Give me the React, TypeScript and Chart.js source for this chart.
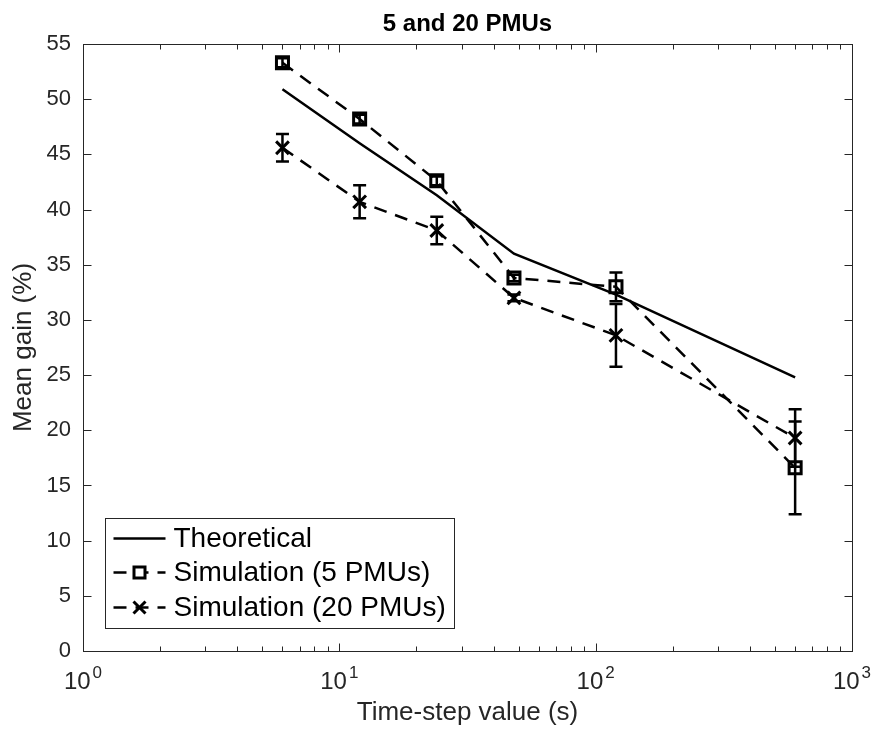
import { useEffect, useRef } from 'react';
import { Chart, registerables } from 'chart.js';

Chart.register(...registerables);

// ---- data ----
const timeSteps = [6, 12, 24, 48, 120, 600];
const theoretical = [50.9, 46.0, 41.3, 36.0, 32.3, 24.8];
const sim5 = [53.3, 48.2, 42.6, 33.8, 33.0, 16.6];
const sim5Err = [0.4, 0.4, 0.4, 0.3, 1.3, 4.2];
const sim20 = [45.6, 40.7, 38.1, 32.0, 28.6, 19.3];
const sim20Err = [1.25, 1.5, 1.25, 0.3, 2.85, 2.6];
const xMajorTicks = [1, 10, 100, 1000];
const xTickExponents = ['0', '1', '2', '3'];
const seriesLabels = ['Theoretical', 'Simulation (5 PMUs)', 'Simulation (20 PMUs)'];
const chartTitle = '5 and 20 PMUs';
const xTitle = 'Time-step value (s)';
const yTitle = 'Mean gain (%)';
const yMin = 0;
const yMax = 55;
const yStep = 5;

const FONT = '"Liberation Sans", Arial, Helvetica, sans-serif';
const AXIS = '#262626';
const DASH = [13, 9];

const errorsByDataset: (number[] | null)[] = [null, sim5Err, sim20Err];

const errorBarPlugin = {
  id: 'errorBars',
  afterDatasetsDraw(chart: any) {
    const ctx = chart.ctx;
    const xs = chart.scales.x;
    const ys = chart.scales.y;
    ctx.save();
    ctx.strokeStyle = '#000';
    ctx.lineWidth = 2.5;
    ctx.setLineDash([]);
    chart.data.datasets.forEach((ds: any, di: number) => {
      const errs = errorsByDataset[di];
      if (!errs) return;
      ds.data.forEach((p: any, i: number) => {
        const px = xs.getPixelForValue(p.x);
        const top = ys.getPixelForValue(p.y + errs[i]);
        const bot = ys.getPixelForValue(p.y - errs[i]);
        const cap = 6.5;
        ctx.beginPath();
        ctx.moveTo(px, top);
        ctx.lineTo(px, bot);
        ctx.moveTo(px - cap, top);
        ctx.lineTo(px + cap, top);
        ctx.moveTo(px - cap, bot);
        ctx.lineTo(px + cap, bot);
        ctx.stroke();
      });
    });
    ctx.restore();
  },
};

const framePlugin = {
  id: 'frame',
  afterDraw(chart: any) {
    const ctx = chart.ctx;
    const ca = chart.chartArea;
    const xs = chart.scales.x;
    const ys = chart.scales.y;
    const L = Math.round(ca.left) + 0.5;
    const R = Math.round(ca.right) + 0.5;
    const T = Math.round(ca.top) + 0.5;
    const B = Math.round(ca.bottom) + 0.5;
    ctx.save();
    ctx.strokeStyle = AXIS;
    ctx.lineWidth = 1;
    ctx.setLineDash([]);
    ctx.strokeRect(L, T, R - L, B - T);
    const major = 8;
    const minor = 5;
    ctx.beginPath();
    for (let d = 0; d < xMajorTicks.length; d++) {
      const base = xMajorTicks[d];
      const px = Math.round(xs.getPixelForValue(base)) + 0.5;
      ctx.moveTo(px, B);
      ctx.lineTo(px, B - major);
      ctx.moveTo(px, T);
      ctx.lineTo(px, T + major);
      if (d < xMajorTicks.length - 1) {
        for (let k = 2; k <= 9; k++) {
          const mx = Math.round(xs.getPixelForValue(base * k)) + 0.5;
          ctx.moveTo(mx, B);
          ctx.lineTo(mx, B - minor);
          ctx.moveTo(mx, T);
          ctx.lineTo(mx, T + minor);
        }
      }
    }
    for (let v = yMin; v <= yMax; v += yStep) {
      const py = Math.round(ys.getPixelForValue(v)) + 0.5;
      ctx.moveTo(L, py);
      ctx.lineTo(L + major, py);
      ctx.moveTo(R, py);
      ctx.lineTo(R - major, py);
    }
    ctx.stroke();

    // title
    ctx.fillStyle = '#000';
    ctx.textBaseline = 'middle';
    ctx.textAlign = 'center';
    ctx.font = `bold 24px ${FONT}`;
    ctx.fillText(chartTitle, (ca.left + ca.right) / 2, ca.top - 20);

    // x tick labels 10^n
    ctx.fillStyle = AXIS;
    ctx.textAlign = 'left';
    xMajorTicks.forEach((v, i) => {
      const px = xs.getPixelForValue(v);
      ctx.font = `24px ${FONT}`;
      const w1 = ctx.measureText('10').width;
      ctx.font = `17px ${FONT}`;
      const w2 = ctx.measureText(xTickExponents[i]).width;
      const start = px - (w1 + 2 + w2) / 2;
      ctx.font = `24px ${FONT}`;
      ctx.fillText('10', start, B + 31);
      ctx.font = `17px ${FONT}`;
      ctx.fillText(xTickExponents[i], start + w1 + 2, B + 22);
    });

    // legend
    const boxL = Math.round(ca.left) + 22.5;
    const boxB = Math.round(ca.bottom) - 22.5;
    const boxW = 349;
    const boxH = 110;
    const boxT = boxB - boxH;
    ctx.fillStyle = '#fff';
    ctx.fillRect(boxL, boxT, boxW, boxH);
    ctx.strokeStyle = AXIS;
    ctx.lineWidth = 1;
    ctx.strokeRect(boxL, boxT, boxW, boxH);
    const rows = [20, 54, 89];
    const x1 = boxL + 8;
    const x2 = boxL + 60;
    const mx = boxL + 34;
    chart.data.datasets.forEach((ds: any, i: number) => {
      const y = boxT + rows[i];
      ctx.strokeStyle = '#000';
      ctx.lineWidth = 2.5;
      ctx.setLineDash(ds.borderDash || []);
      ctx.beginPath();
      ctx.moveTo(x1, y);
      ctx.lineTo(x2, y);
      ctx.stroke();
      ctx.setLineDash([]);
      ctx.lineWidth = 3;
      if (ds.pointStyle === 'rect') {
        ctx.fillStyle = '#fff';
        ctx.fillRect(mx - 5.5, y - 5.5, 11, 11);
        ctx.strokeRect(mx - 5.5, y - 5.5, 11, 11);
      } else if (ds.pointStyle === 'crossRot') {
        ctx.beginPath();
        ctx.moveTo(mx - 6, y - 6);
        ctx.lineTo(mx + 6, y + 6);
        ctx.moveTo(mx + 6, y - 6);
        ctx.lineTo(mx - 6, y + 6);
        ctx.stroke();
      }
      ctx.fillStyle = '#000';
      ctx.font = `28px ${FONT}`;
      ctx.textBaseline = 'middle';
      ctx.textAlign = 'left';
      ctx.fillText(seriesLabels[i], boxL + 68, y + 1);
    });
    ctx.restore();
  },
};

export default function App() {
  const ref = useRef<HTMLCanvasElement | null>(null);
  useEffect(() => {
    document.body.style.margin = '0';
    const canvas = ref.current;
    if (!canvas) return;
    Chart.defaults.font.family = FONT;
    const pts = (ys: number[]) => timeSteps.map((x, i) => ({ x, y: ys[i] }));
    const chart = new Chart(canvas, {
      type: 'line',
      data: {
        datasets: [
          {
            label: seriesLabels[0],
            data: pts(theoretical),
            borderColor: '#000',
            borderWidth: 2.5,
            pointRadius: 0,
            tension: 0,
          },
          {
            label: seriesLabels[1],
            data: pts(sim5),
            borderColor: '#000',
            borderWidth: 2.5,
            borderDash: DASH,
            pointStyle: 'rect',
            pointRadius: 8.5,
            pointBorderWidth: 3,
            pointBorderColor: '#000',
            pointBackgroundColor: 'rgba(0,0,0,0)',
            tension: 0,
          },
          {
            label: seriesLabels[2],
            data: pts(sim20),
            borderColor: '#000',
            borderWidth: 2.5,
            borderDash: DASH,
            pointStyle: 'crossRot',
            pointRadius: 9,
            pointBorderWidth: 3,
            pointBorderColor: '#000',
            pointBackgroundColor: 'rgba(0,0,0,0)',
            tension: 0,
          },
        ] as any,
      },
      options: {
        animation: false,
        responsive: false,
        devicePixelRatio: 1,
        layout: { padding: { left: 0, right: 20, top: 44, bottom: 0 } },
        plugins: {
          legend: { display: false },
          tooltip: { enabled: false },
          title: { display: false },
        },
        scales: {
          x: {
            type: 'logarithmic',
            min: 1,
            max: 1000,
            ticks: { display: false },
            grid: { display: false, drawTicks: false },
            border: { display: false },
            title: {
              display: true,
              text: xTitle,
              color: AXIS,
              font: { size: 26, family: FONT },
              padding: { top: 0, bottom: 0.5 },
            },
            afterFit: (s: any) => {
              s.height = 78;
            },
          },
          y: {
            type: 'linear',
            min: yMin,
            max: yMax,
            ticks: {
              stepSize: yStep,
              color: AXIS,
              font: { size: 22, family: FONT },
              padding: 12,
            },
            grid: { display: false, drawTicks: false },
            border: { display: false },
            title: {
              display: true,
              text: yTitle,
              color: AXIS,
              font: { size: 26, family: FONT },
              padding: { top: 8.4, bottom: 0 },
            },
            afterFit: (s: any) => {
              s.width = 83;
            },
          },
        },
      } as any,
      plugins: [errorBarPlugin, framePlugin],
    });
    return () => chart.destroy();
  }, []);
  return (
    <div style={{ width: 872, height: 729 }}>
      <canvas ref={ref} width={872} height={729} style={{ display: 'block' }} />
    </div>
  );
}
